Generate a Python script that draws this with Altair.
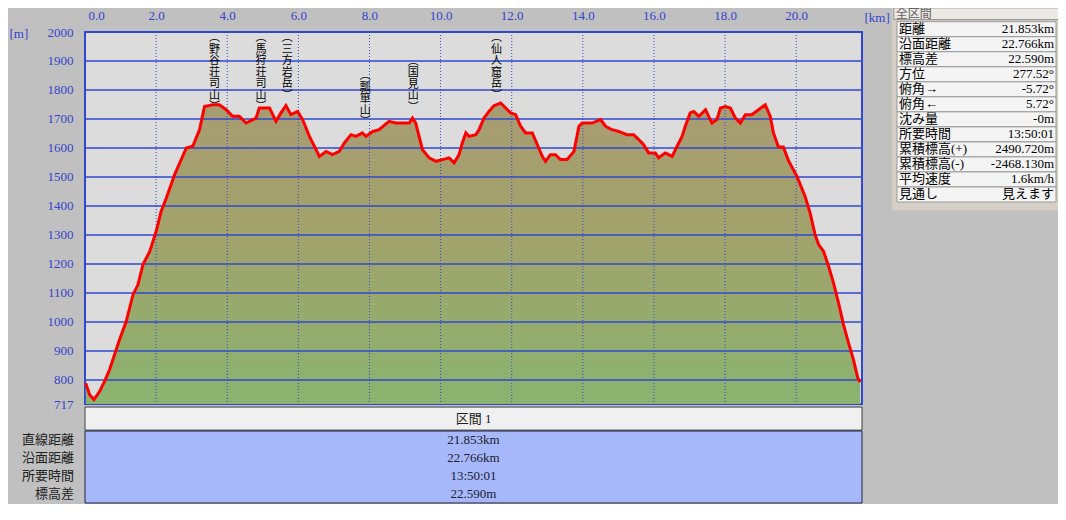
import altair as alt
import pandas as pd

# ---------------- data ----------------
KM = [0.02, 0.13, 0.25, 0.41, 0.55, 0.69, 0.79, 0.97, 1.16, 1.35, 1.49, 1.63, 1.82, 2.00,
      2.14, 2.29, 2.52, 2.85, 3.03, 3.22, 3.36, 3.59, 3.78, 3.97, 4.15, 4.34, 4.53, 4.72,
      4.81, 4.90, 5.19, 5.37, 5.51, 5.65, 5.79, 5.98, 6.12, 6.31, 6.50, 6.59, 6.78, 6.96,
      7.15, 7.29, 7.48, 7.62, 7.80, 7.90, 8.09, 8.27, 8.55, 8.74, 9.12, 9.21, 9.30, 9.49,
      9.68, 9.87, 10.05, 10.24, 10.38, 10.52, 10.61, 10.71, 10.80, 10.99, 11.08, 11.22,
      11.36, 11.50, 11.69, 11.83, 11.97, 12.11, 12.25, 12.39, 12.58, 12.72, 12.86, 12.95,
      13.09, 13.23, 13.37, 13.56, 13.75, 13.89, 13.98, 14.26, 14.50, 14.64, 14.82, 15.01,
      15.24, 15.43, 15.57, 15.71, 15.85, 16.04, 16.13, 16.32, 16.51, 16.65, 16.79, 16.88,
      17.02, 17.12, 17.26, 17.45, 17.63, 17.77, 17.87, 18.01, 18.15, 18.29, 18.43, 18.57,
      18.75, 18.94, 19.13, 19.27, 19.36, 19.50, 19.64, 19.78, 20.02, 20.25, 20.39, 20.53,
      20.63, 20.77, 20.91, 21.05, 21.19, 21.33, 21.47, 21.61, 21.73, 21.80]
ELEV = [789, 749, 732, 760, 795, 835, 872, 939, 1002, 1094, 1129, 1198, 1243, 1312,
        1381, 1428, 1508, 1600, 1606, 1663, 1743, 1749, 1749, 1732, 1709, 1709, 1686, 1698,
        1703, 1738, 1738, 1692, 1721, 1746, 1715, 1726, 1698, 1640, 1594, 1571, 1588, 1577,
        1588, 1617, 1646, 1640, 1652, 1640, 1657, 1663, 1692, 1686, 1686, 1703, 1686, 1594,
        1566, 1554, 1560, 1566, 1549, 1577, 1617, 1652, 1640, 1646, 1663, 1703,
        1726, 1746, 1755, 1738, 1721, 1715, 1675, 1652, 1652, 1611, 1571, 1554,
        1577, 1577, 1560, 1560, 1588, 1675, 1686, 1686, 1698, 1675, 1663, 1657,
        1646, 1646, 1629, 1611, 1583, 1583, 1566, 1583, 1571, 1606, 1640, 1675,
        1721, 1726, 1709, 1732, 1686, 1698, 1738, 1743, 1738, 1703, 1686, 1715,
        1715, 1732, 1749, 1709, 1652, 1603, 1603, 1557, 1502, 1433, 1376, 1301,
        1267, 1243, 1192, 1134, 1066, 991, 928, 870, 807, 792]

X_TICKS = [0, 2, 4, 6, 8, 10, 12, 14, 16, 18, 20]
Y_TICKS = [717, 800, 900, 1000, 1100, 1200, 1300, 1400, 1500, 1600, 1700, 1800, 1900, 2000]
GRID_ELEV = [800, 900, 1000, 1100, 1200, 1300, 1400, 1500, 1600, 1700, 1800, 1900]
GRID_KM = [0, 2, 4, 6, 8, 10, 12, 14, 16, 18, 20]

PEAK_NAMES = ["野谷荘司山", "馬狩荘司山", "三方岩岳", "瓢箪山", "国見山", "仙人窟岳"]
PEAK_KM = [3.64, 4.95, 5.69, 7.88, 9.23, 11.57]
PEAK_LABEL_TOP = [2000, 2000, 2000, 1868, 1918, 2000]

SEG_HEADER = "区間 1"
SEG_LABELS = ["直線距離", "沿面距離", "所要時間", "標高差"]
SEG_VALUES = ["21.853km", "22.766km", "13:50:01", "22.590m"]

INFO_HEADER = "全区間"
INFO_LABELS = ["距離", "沿面距離", "標高差", "方位", "俯角→", "俯角←", "沈み量",
               "所要時間", "累積標高(+)", "累積標高(-)", "平均速度", "見通し"]
INFO_VALUES = ["21.853km", "22.766km", "22.590m", "277.52°", "-5.72°", "5.72°", "-0m",
               "13:50:01", "2490.720m", "-2468.130m", "1.6km/h", "見えます"]

# ---------------- styling ----------------
W, H = 777, 372
BLUE = "#3344CC"
GRID = "#3048D0"
FONT = "'Liberation Serif', 'Noto Sans CJK JP'"
JFONT = "'Noto Sans CJK JP'"

prof = pd.DataFrame({"km": KM, "elev": ELEV})

x_enc = alt.X(
    "km:Q",
    scale=alt.Scale(domain=[0, 21.85], nice=False, zero=False),
    axis=alt.Axis(orient="top", values=X_TICKS, format=".1f", grid=False, ticks=False,
                  tickSize=0, domain=False, labelPadding=10, labelColor=BLUE,
                  labelFont=FONT, labelFontSize=13, labelFlush=True, labelFlushOffset=-3,
                  labelOverlap=False, title="[km]", titleX=779, titleY=-15,
                  titleAlign="left", titleBaseline="middle", titleColor=BLUE,
                  titleFont=FONT, titleFontSize=13, titleFontWeight="normal"),
)
y_enc = alt.Y(
    "elev:Q",
    scale=alt.Scale(domain=[717, 2000], nice=False, zero=False),
    axis=alt.Axis(values=Y_TICKS, format="d", grid=False, ticks=False, tickSize=0,
                  domain=False, labelPadding=12, labelColor=BLUE, labelFont=FONT,
                  labelFontSize=13, labelOverlap=False, title="[m]", titleAngle=0,
                  titleX=-76, titleY=1, titleAlign="left", titleBaseline="middle",
                  titleColor=BLUE, titleFont=FONT, titleFontSize=13,
                  titleFontWeight="normal"),
)

grad = alt.Gradient(
    gradient="linear",
    stops=[alt.GradientStop(color="#A89C72", offset=0),
           alt.GradientStop(color="#A3A26C", offset=0.4),
           alt.GradientStop(color="#8AB36F", offset=1)],
    x1=1, x2=1, y1=0, y2=1,
)

area = alt.Chart(prof).mark_area(color=grad).encode(x=x_enc, y=y_enc, y2=alt.datum(717))
hgrid = alt.Chart(pd.DataFrame({"elev": GRID_ELEV})).mark_rule(
    color=GRID, strokeWidth=1.5).encode(y=y_enc)
vgrid = alt.Chart(pd.DataFrame({"km": GRID_KM})).mark_rule(
    color=GRID, strokeWidth=1, strokeDash=[1, 2]).encode(x=x_enc)
line = alt.Chart(prof).mark_line(color="#FF0000", strokeWidth=3).encode(x=x_enc, y=y_enc)

peaks = pd.DataFrame({
    "km": PEAK_KM,
    "elev": PEAK_LABEL_TOP,
    "txt": ["︵\n" + "\n".join(n) + "\n︶" for n in PEAK_NAMES],
})
labels = alt.Chart(peaks).mark_text(
    lineBreak="\n", baseline="top", align="center", font=JFONT, fontSize=11,
    lineHeight=11.5, color="#000000").encode(x=x_enc, y=y_enc, text="txt:N")

main = alt.layer(area, hgrid, vgrid, line, labels)

# ---------------- bottom segment table ----------------
tx = alt.Scale(domain=[0, 1], range=[0, W])
ty = alt.Scale(domain=[0, 4], range=[399, 471])

seg_head = pd.DataFrame({"x0": [0], "x1": [1], "y0": [-1.33], "y1": [-0.05],
                         "xm": [0.5], "ym": [-0.69], "t": [SEG_HEADER]})
seg_body = pd.DataFrame({"x0": [0], "x1": [1], "y0": [0], "y1": [len(SEG_LABELS)]})
seg_rows = pd.DataFrame({"label": SEG_LABELS, "value": SEG_VALUES,
                         "xl": [0] * len(SEG_LABELS), "xm": [0.5] * len(SEG_LABELS),
                         "row": [i + 0.5 for i in range(len(SEG_LABELS))]})

t_head = alt.Chart(seg_head).mark_rect(fill="#F0F0F0", stroke="#404040", strokeWidth=1).encode(
    x=alt.X("x0:Q", scale=tx, axis=None), x2="x1:Q",
    y=alt.Y("y0:Q", scale=ty, axis=None), y2="y1:Q")
t_head_txt = alt.Chart(seg_head).mark_text(font=FONT, fontSize=13, color="#202020",
                                           baseline="middle").encode(
    x=alt.X("xm:Q", scale=tx, axis=None), y=alt.Y("ym:Q", scale=ty, axis=None), text="t:N")
t_body = alt.Chart(seg_body).mark_rect(fill="#A6B8FA", stroke="#202040", strokeWidth=1).encode(
    x=alt.X("x0:Q", scale=tx, axis=None), x2="x1:Q",
    y=alt.Y("y0:Q", scale=ty, axis=None), y2="y1:Q")
t_vals = alt.Chart(seg_rows).mark_text(font=FONT, fontSize=13, color="#202030",
                                       baseline="middle").encode(
    x=alt.X("xm:Q", scale=tx, axis=None), y=alt.Y("row:Q", scale=ty, axis=None),
    text="value:N")
t_labs = alt.Chart(seg_rows).mark_text(font=FONT, fontSize=13, color="#202020",
                                       baseline="middle", align="right", dx=-11).encode(
    x=alt.X("xl:Q", scale=tx, axis=None), y=alt.Y("row:Q", scale=ty, axis=None),
    text="label:N")
table = alt.layer(t_head, t_head_txt, t_body, t_vals, t_labs)

# ---------------- right info panel ----------------
n = len(INFO_LABELS)
px = alt.Scale(domain=[0, 1], range=[812, 971])
py = alt.Scale(domain=[0, n], range=[-10.3, 170])

p_bg = pd.DataFrame({"x0": [-0.03], "x1": [1.2], "y0": [-1.2], "y1": [n + 0.55]})
p_head = pd.DataFrame({"x0": [-0.02], "x1": [1.2], "y0": [-0.92], "y1": [-0.14],
                       "xl": [-0.02], "ym": [-0.5], "t": [INFO_HEADER]})
p_rows = pd.DataFrame({"label": INFO_LABELS, "value": INFO_VALUES,
                       "x0": [0] * n, "x1": [1] * n,
                       "y0": list(range(n)), "y1": [i + 1 for i in range(n)],
                       "ym": [i + 0.5 for i in range(n)]})

pb = alt.Chart(p_bg).mark_rect(fill="#D4D0C8").encode(
    x=alt.X("x0:Q", scale=px, axis=None), x2="x1:Q",
    y=alt.Y("y0:Q", scale=py, axis=None), y2="y1:Q")
ph = alt.Chart(p_head).mark_rect(fill="#ECE9E4", stroke="#909090", strokeWidth=1).encode(
    x=alt.X("x0:Q", scale=px, axis=None), x2="x1:Q",
    y=alt.Y("y0:Q", scale=py, axis=None), y2="y1:Q")
pht = alt.Chart(p_head).mark_text(font=FONT, fontSize=12, color="#606060", align="left",
                                  baseline="middle", dx=2).encode(
    x=alt.X("xl:Q", scale=px, axis=None), y=alt.Y("ym:Q", scale=py, axis=None), text="t:N")
pr = alt.Chart(p_rows).mark_rect(fill="#F4F4F4", stroke="#9A9A9A", strokeWidth=1).encode(
    x=alt.X("x0:Q", scale=px, axis=None), x2="x1:Q",
    y=alt.Y("y0:Q", scale=py, axis=None), y2="y1:Q")
pl = alt.Chart(p_rows).mark_text(font=FONT, fontSize=13, color="#000000", align="left",
                                 baseline="middle", dx=2).encode(
    x=alt.X("x0:Q", scale=px, axis=None), y=alt.Y("ym:Q", scale=py, axis=None),
    text="label:N")
pv = alt.Chart(p_rows).mark_text(font=FONT, fontSize=13, color="#000000", align="right",
                                 baseline="middle", dx=-2).encode(
    x=alt.X("x1:Q", scale=px, axis=None), y=alt.Y("ym:Q", scale=py, axis=None),
    text="value:N")
panel = alt.layer(pb, ph, pht, pr, pl, pv)

chart = alt.layer(main, table, panel).resolve_scale(
    x="independent", y="independent"
).properties(
    width=W, height=H,
    padding={"left": 77, "top": 24, "right": 196, "bottom": 100},
    autosize=alt.AutoSizeParams(type="none"),
    background="#C0C0C0",
).configure_view(fill="#DCDCDC", stroke=GRID, strokeWidth=2)

chart.save("out.html", embed_options={"renderer": "svg", "actions": False})
